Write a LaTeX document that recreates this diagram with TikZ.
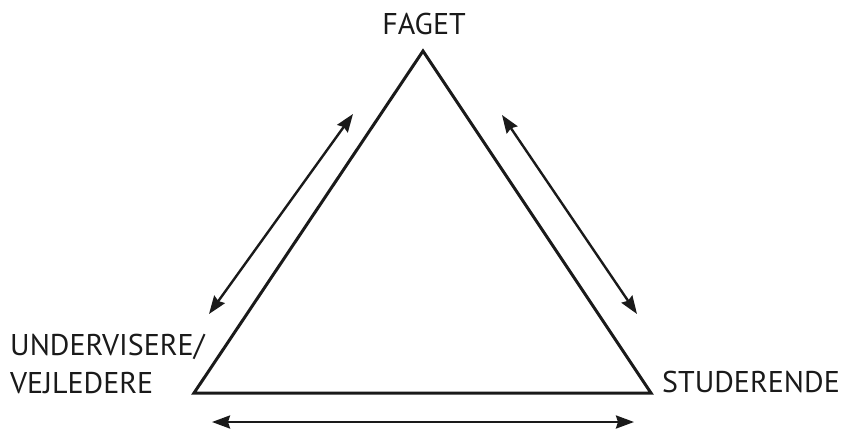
\documentclass[tikz,border=0pt]{standalone}
\usepackage{fontspec}
\setmainfont{PT Sans}
\usepackage{tikz}
\usetikzlibrary{arrows.meta,positioning}
\definecolor{triink}{HTML}{1A1A1A}

\begin{document}
\begin{tikzpicture}[
  x=1pt,y=-1pt,
  lbl/.style={font=\fontsize{30}{40}\selectfont,text=triink,inner sep=0pt,align=left},
  side/.style={draw=triink,line width=3pt,line join=miter},
  arr/.style={{Stealth[length=18pt,width=13pt,inset=2pt]}-{Stealth[length=18pt,width=13pt,inset=2pt]},line width=2.4pt,draw=triink}
]
\useasboundingbox (0,0) rectangle (842,428);
% corners of the triangle
\coordinate (fag) at (423,51);
\coordinate (und) at (194,393);
\coordinate (stu) at (651,393);
\draw[side] (fag) -- (stu) -- (und) -- cycle;

\node[lbl,anchor=base] (faget) at (424,35) {FAGET};
\node[lbl,anchor=base west] (underv) at (10,355) {UNDERVISERE/};
\node[lbl,anchor=base west] (vejled) at (10,393) {VEJLEDERE};
\node[lbl,anchor=base west] (studer) at (662,392) {STUDERENDE};

% arrow ends
\coordinate (lt) at (353,114);
\coordinate (lb) at (209,314);
\coordinate (rt) at (502,115);
\coordinate (rb) at (637,314);
\coordinate (bl) at (212,422);
\coordinate (br) at (634,422);
\draw[arr] (lt) -- (lb);
\draw[arr] (rt) -- (rb);
\draw[arr] (bl) -- (br);
\end{tikzpicture}
\end{document}
